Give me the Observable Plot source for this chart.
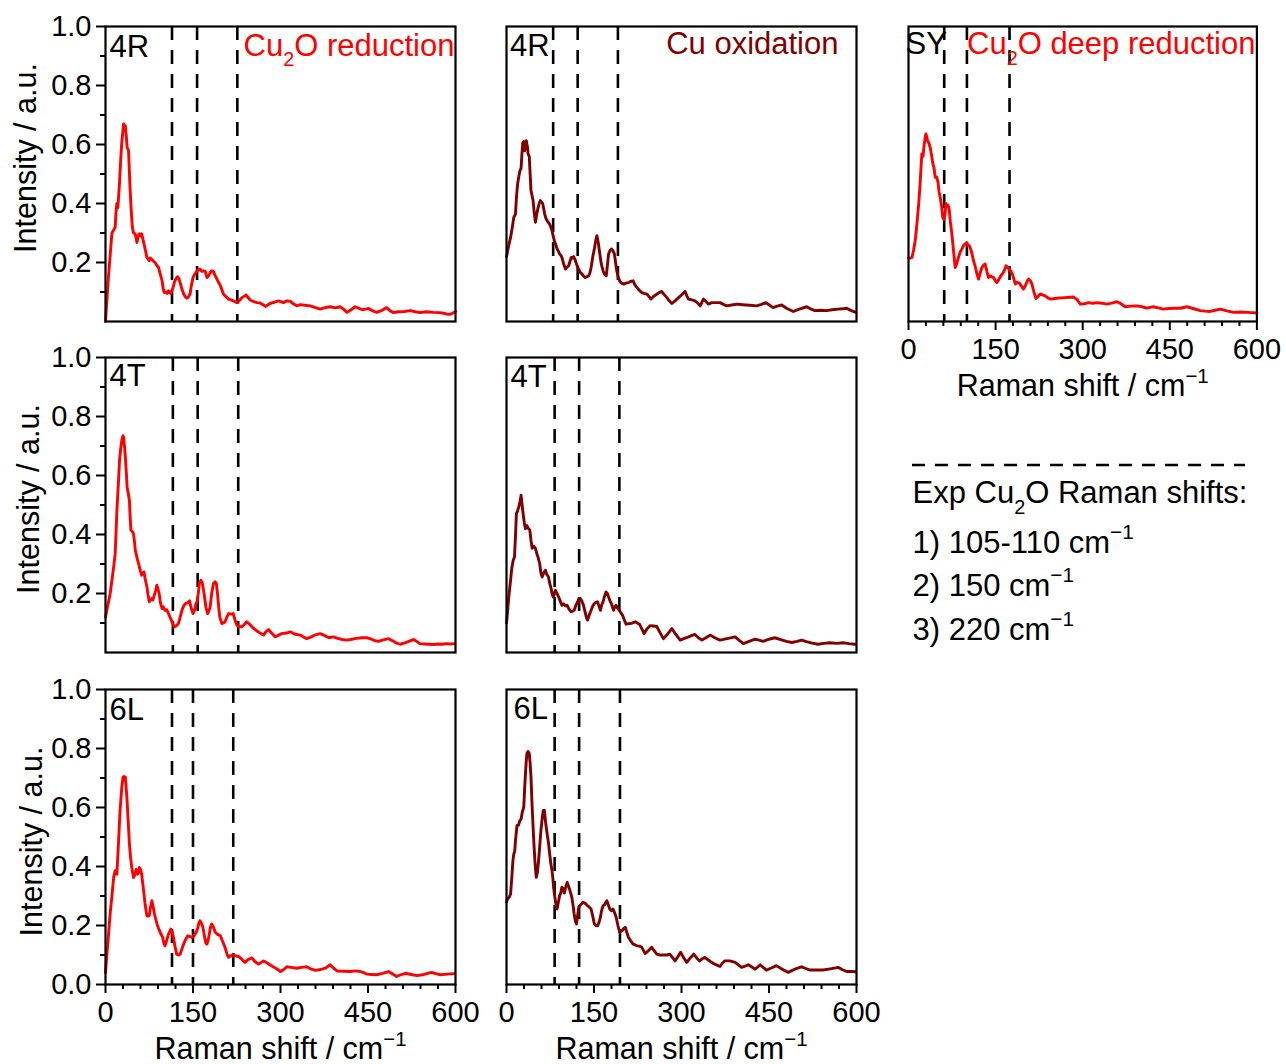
<!DOCTYPE html>
<html>
<head>
<meta charset="utf-8">
<script src="https://cdn.jsdelivr.net/npm/d3@7"></script>
<script src="https://cdn.jsdelivr.net/npm/@observablehq/plot@0.6"></script>
<style>
  body { margin: 0; background: #fff; }
  #fig { position: relative; width: 1286px; height: 1064px; background: #fff;
         font-family: "Liberation Sans", Arial, Helvetica, sans-serif; }
  #fig > svg { position: absolute; overflow: visible; }
</style>
</head>
<body>
<div id="fig"></div>
<script>
// Raman spectra: [shift (cm^-1), intensity (a.u.)]
const reduction4R = [[0,0],[5,0.15],[11,0.30],[14,0.31],[16.6,0.32],[18,0.37],[19.5,0.40],[21,0.385],[22,0.41],[24,0.47],[26,0.545],[28,0.61],[31,0.67],[33,0.655],[34,0.664],[36,0.62],[37,0.59],[39.5,0.58],[42,0.455],[44,0.38],[46,0.32],[48,0.30],[51,0.297],[54,0.268],[56,0.29],[58,0.297],[60,0.29],[62,0.297],[64,0.28],[66,0.263],[68,0.245],[71,0.217],[73,0.212],[75,0.206],[77,0.215],[79.5,0.21],[82,0.205],[85,0.20],[88,0.19],[91,0.183],[94,0.16],[97,0.138],[99,0.11],[101,0.098],[104,0.1],[106,0.095],[108,0.104],[110,0.098],[112,0.095],[115,0.11],[118,0.132],[120,0.142],[123.5,0.152],[126,0.145],[128,0.132],[131,0.11],[134,0.093],[137,0.083],[139.5,0.079],[142,0.083],[145,0.093],[147,0.12],[150,0.149],[153,0.16],[157,0.172],[160,0.176],[162,0.178],[165,0.17],[168,0.172],[171,0.17],[174,0.149],[177,0.155],[179.5,0.166],[182,0.172],[185,0.17],[188,0.155],[191,0.144],[194,0.132],[197,0.121],[200,0.105],[202,0.093],[206,0.085],[211,0.076],[215,0.073],[219,0.07],[223,0.066],[226,0.064],[230,0.072],[234,0.081],[238,0.086],[241,0.09],[244,0.082],[248,0.073],[253,0.068],[259.5,0.064],[265,0.063],[270,0.057],[274,0.051],[278,0.056],[282,0.061],[290,0.066],[297,0.07],[305,0.064],[311,0.07],[317,0.068],[322,0.06],[328,0.053],[334,0.057],[342,0.055],[351,0.053],[360,0.047],[368,0.042],[376,0.047],[385,0.05],[394,0.046],[402,0.05],[408,0.042],[414,0.031],[421,0.04],[428,0.05],[434,0.045],[440,0.04],[446,0.042],[451,0.044],[458,0.036],[465,0.031],[474,0.038],[482,0.047],[488,0.036],[494,0.03],[502,0.033],[512,0.034],[523,0.037],[531,0.033],[539,0.03],[550,0.033],[562,0.031],[572,0.03],[580,0.028],[585,0.025],[590,0.024],[595,0.028],[600,0.034]];

const reduction4T = [[0,0.12],[4,0.16],[8,0.20],[11,0.245],[14,0.29],[16.6,0.335],[18,0.40],[19.5,0.48],[22,0.57],[24,0.65],[26,0.69],[28,0.72],[30,0.735],[31,0.73],[33,0.69],[34,0.663],[36,0.6],[37,0.56],[39,0.54],[41,0.516],[42,0.47],[43.5,0.415],[46,0.41],[48,0.403],[50,0.37],[51,0.347],[53,0.33],[55,0.313],[57,0.3],[58,0.29],[60,0.275],[62,0.262],[64,0.27],[66,0.273],[68,0.25],[71,0.222],[73,0.195],[75,0.172],[77,0.18],[79.5,0.183],[81,0.178],[83,0.19],[86,0.21],[88,0.228],[90,0.215],[92,0.20],[94,0.17],[97,0.149],[99,0.155],[102,0.143],[105,0.145],[108,0.132],[111,0.118],[114,0.104],[116,0.095],[118,0.087],[121,0.09],[125,0.098],[128,0.12],[131,0.143],[134,0.158],[137,0.166],[140,0.168],[142,0.17],[144,0.175],[147,0.15],[150,0.132],[153,0.145],[155,0.165],[157,0.172],[159,0.2],[161,0.235],[163.5,0.245],[166,0.235],[169,0.2],[172,0.155],[175,0.132],[177,0.14],[179.5,0.155],[182,0.2],[185,0.234],[188,0.24],[190,0.234],[192,0.2],[194,0.155],[196,0.12],[199.5,0.098],[202,0.1],[205,0.104],[208,0.12],[211,0.132],[215,0.13],[219,0.132],[222,0.11],[225,0.093],[229,0.088],[234,0.087],[238,0.095],[242,0.104],[246,0.098],[251,0.087],[255,0.08],[259.5,0.073],[265,0.066],[271,0.059],[275,0.07],[279.5,0.078],[285,0.065],[291,0.053],[296,0.058],[302,0.064],[310,0.066],[317,0.07],[325,0.062],[334,0.059],[340,0.052],[345,0.047],[352,0.052],[360,0.06],[368,0.064],[375,0.058],[383,0.05],[391,0.053],[398,0.048],[406,0.044],[414,0.042],[422,0.045],[430,0.048],[440,0.05],[448,0.05],[456,0.045],[462,0.04],[468,0.038],[476,0.043],[485,0.047],[492,0.04],[498,0.033],[505,0.028],[512,0.032],[520,0.038],[528,0.044],[534,0.037],[539,0.03],[546,0.029],[554,0.028],[562,0.027],[570,0.029],[578,0.028],[585,0.03],[592,0.029],[598,0.03]];

const reduction6L = [[0,0.04],[4,0.14],[8,0.24],[11,0.3],[14,0.363],[16.6,0.386],[19.5,0.374],[22,0.47],[25,0.59],[28,0.67],[30,0.703],[32,0.705],[34,0.703],[37,0.624],[39,0.55],[41,0.477],[43,0.43],[45,0.397],[48,0.363],[50,0.37],[52.6,0.39],[55,0.374],[57,0.38],[58,0.397],[60,0.39],[62,0.374],[64,0.34],[66,0.307],[68,0.27],[71,0.233],[73,0.232],[75,0.233],[77,0.26],[79.5,0.284],[82,0.26],[84,0.239],[87,0.215],[89,0.2],[92,0.185],[95,0.171],[98,0.16],[100,0.14],[102,0.131],[105,0.15],[108,0.171],[110,0.178],[112,0.188],[114,0.18],[116.6,0.16],[119,0.13],[122,0.103],[125,0.1],[128,0.103],[131,0.12],[134,0.137],[137,0.152],[141,0.165],[144,0.163],[148,0.16],[151,0.163],[155.5,0.177],[158,0.19],[160,0.208],[162,0.216],[164,0.21],[167,0.194],[170,0.16],[172,0.14],[174,0.137],[177,0.16],[180,0.195],[182,0.205],[185,0.195],[188,0.177],[192,0.17],[197,0.165],[201,0.145],[205,0.126],[208,0.105],[211,0.092],[215,0.098],[219,0.1],[224,0.097],[228,0.095],[234,0.085],[239,0.075],[245,0.085],[251,0.09],[256,0.078],[262,0.069],[267,0.075],[271,0.08],[278,0.072],[285,0.063],[292,0.055],[300,0.044],[305,0.05],[311,0.06],[318,0.058],[328,0.055],[336,0.058],[345,0.06],[352,0.053],[360,0.048],[366,0.05],[371,0.052],[378,0.056],[385,0.067],[391,0.055],[397,0.046],[408,0.045],[420,0.044],[428,0.046],[437,0.044],[443,0.04],[448,0.035],[456,0.034],[465,0.033],[475,0.038],[485,0.044],[492,0.036],[499,0.027],[506,0.033],[514,0.038],[524,0.034],[534,0.03],[546,0.034],[559,0.041],[566,0.037],[574,0.033],[586,0.035],[598,0.037]];

const oxidation4R = [[0,0.22],[1,0.229],[4,0.26],[7,0.285],[10,0.32],[12.5,0.353],[15.4,0.364],[17,0.42],[19,0.466],[21,0.49],[23,0.511],[25,0.52],[26.5,0.57],[28,0.607],[29.5,0.61],[31,0.579],[32.5,0.6],[34,0.613],[36,0.59],[37,0.568],[39,0.56],[40,0.52],[42,0.443],[45.6,0.41],[47.5,0.37],[49.6,0.336],[51.5,0.36],[53.6,0.381],[56,0.40],[58,0.41],[60,0.405],[62,0.40],[64,0.38],[65.5,0.364],[67.5,0.35],[69.6,0.342],[72,0.335],[74,0.33],[76,0.32],[78,0.308],[80,0.29],[82,0.274],[84.5,0.26],[86.7,0.246],[89,0.238],[91,0.229],[93,0.225],[95,0.217],[98,0.195],[101,0.178],[104,0.185],[106.6,0.189],[109,0.205],[111,0.217],[113,0.215],[115,0.22],[117.5,0.21],[120,0.195],[123,0.18],[126.6,0.166],[130,0.16],[133,0.152],[135,0.149],[138,0.152],[141,0.155],[143,0.165],[145,0.183],[148,0.22],[151,0.251],[153,0.275],[155,0.291],[157.5,0.265],[160,0.229],[162.5,0.195],[165.5,0.172],[168,0.16],[171,0.155],[173,0.19],[175,0.229],[177.5,0.24],[180,0.246],[182.5,0.24],[185,0.229],[187,0.2],[189,0.172],[191.5,0.15],[194,0.138],[197,0.13],[201,0.127],[205,0.13],[209,0.132],[213,0.136],[217,0.138],[220,0.125],[223.6,0.115],[228,0.105],[232,0.098],[236,0.095],[241,0.093],[244,0.085],[247.6,0.076],[252,0.085],[258,0.093],[262,0.098],[266,0.102],[270,0.092],[275,0.081],[279,0.07],[283.5,0.061],[289,0.07],[295,0.081],[300,0.09],[306,0.102],[309,0.088],[312,0.076],[318,0.073],[323,0.07],[328,0.062],[332,0.053],[337.6,0.076],[342,0.068],[346,0.059],[352,0.064],[359,0.064],[366,0.064],[372,0.058],[377.6,0.053],[386,0.056],[395,0.059],[405,0.057],[417,0.055],[429,0.053],[437,0.058],[445,0.064],[451,0.055],[457,0.047],[464,0.052],[471.7,0.056],[480,0.045],[491.6,0.034],[502,0.042],[514.5,0.05],[521,0.043],[528.7,0.037],[538,0.038],[548.7,0.037],[558,0.04],[568.6,0.042],[576,0.043],[583,0.045],[591,0.037],[599,0.031]];

const oxidation4T = [[0,0.10],[1,0.12],[4,0.19],[7,0.245],[9,0.285],[11.5,0.313],[13.7,0.324],[15.5,0.4],[17,0.471],[19,0.48],[21,0.494],[23,0.51],[25,0.533],[26.7,0.5],[28.5,0.471],[30.5,0.44],[32.5,0.42],[35,0.43],[37.5,0.42],[40,0.415],[42,0.38],[44,0.353],[47,0.36],[49.6,0.353],[52,0.335],[54,0.324],[57,0.3],[59,0.27],[61,0.256],[64,0.27],[66.7,0.279],[69,0.265],[72,0.256],[74,0.235],[76.5,0.217],[78,0.2],[80,0.188],[82,0.2],[84,0.211],[86.5,0.2],[89.5,0.188],[92,0.175],[95,0.16],[98,0.165],[101,0.158],[104,0.16],[107,0.148],[110.7,0.138],[113,0.14],[116,0.143],[119,0.16],[122,0.172],[124,0.182],[126.6,0.183],[129,0.175],[132,0.16],[135,0.135],[137,0.118],[139,0.11],[142,0.128],[145,0.143],[148,0.158],[150.6,0.166],[153,0.17],[156,0.172],[158.5,0.158],[161,0.143],[163,0.16],[165.5,0.172],[168,0.19],[170.6,0.205],[173,0.2],[175,0.188],[177.5,0.175],[179.7,0.166],[181.5,0.155],[183.6,0.143],[185.5,0.155],[187.7,0.16],[190.5,0.15],[193.4,0.143],[196,0.135],[199,0.126],[202,0.11],[205,0.096],[210,0.098],[215,0.099],[218,0.102],[220.7,0.104],[224,0.1],[228,0.096],[232,0.08],[236,0.064],[240.7,0.08],[246,0.091],[252,0.09],[257.6,0.088],[263,0.068],[269,0.047],[276,0.062],[283.5,0.081],[290,0.062],[297.7,0.042],[305,0.048],[312,0.053],[318,0.058],[323,0.061],[329,0.05],[335,0.042],[342,0.05],[349,0.059],[357,0.05],[366,0.042],[378,0.047],[392,0.053],[399,0.041],[406,0.03],[416,0.038],[426,0.045],[433,0.042],[440,0.038],[450,0.045],[460,0.05],[470,0.044],[480,0.038],[489,0.034],[498,0.038],[506,0.042],[514,0.037],[524,0.032],[534,0.028],[544,0.031],[554,0.033],[566,0.031],[577,0.033],[587,0.03],[597,0.028]];

const oxidation6L = [[0,0.28],[2,0.29],[5,0.297],[7,0.307],[9,0.36],[11,0.42],[12.5,0.443],[14,0.45],[15.4,0.488],[18,0.539],[20.5,0.54],[23,0.556],[25,0.56],[27,0.584],[29.6,0.601],[31,0.66],[32.5,0.715],[34,0.76],[35,0.783],[37,0.79],[39,0.783],[40.5,0.75],[42,0.703],[44,0.6],[46.7,0.488],[49,0.41],[51,0.363],[53,0.38],[55,0.42],[57,0.47],[59,0.522],[61,0.56],[63,0.59],[65,0.59],[67,0.55],[69.6,0.511],[72,0.48],[74,0.443],[76,0.41],[78,0.386],[79.5,0.36],[81,0.324],[84,0.28],[86.7,0.256],[89,0.28],[91,0.301],[93,0.31],[95,0.33],[97,0.325],[99,0.31],[101.5,0.33],[104,0.346],[106,0.335],[108,0.324],[110,0.31],[112,0.296],[114,0.27],[116,0.239],[118,0.215],[120,0.205],[122,0.235],[124,0.262],[127,0.27],[131,0.279],[135,0.275],[139,0.267],[142,0.262],[145,0.256],[148,0.23],[150.6,0.205],[153,0.2],[156,0.199],[158.5,0.21],[161,0.228],[163,0.25],[165.5,0.267],[168,0.27],[170,0.278],[172,0.284],[174.5,0.27],[177,0.256],[180,0.25],[182.6,0.256],[185,0.245],[188,0.228],[191,0.2],[194,0.177],[196,0.18],[198,0.182],[201,0.19],[203.6,0.194],[206,0.178],[209,0.16],[213,0.148],[217,0.137],[220,0.135],[223.6,0.131],[228,0.13],[232,0.126],[235,0.115],[237.6,0.105],[242,0.112],[249,0.126],[253,0.115],[257.6,0.103],[263,0.1],[269,0.1],[275,0.1],[280,0.103],[285,0.09],[289,0.08],[294,0.095],[298.4,0.109],[304,0.09],[309,0.075],[315,0.09],[321,0.103],[326,0.09],[331,0.08],[336,0.088],[340,0.092],[346,0.083],[351.5,0.075],[358,0.068],[366,0.061],[370,0.072],[374,0.08],[383,0.08],[392,0.075],[398,0.066],[403,0.058],[409,0.062],[414.6,0.067],[420,0.06],[426,0.052],[431,0.06],[435,0.067],[440,0.058],[445.6,0.049],[454,0.056],[462.7,0.064],[470,0.055],[477,0.047],[483,0.041],[490,0.048],[498,0.055],[505.6,0.06],[512,0.055],[520,0.049],[531,0.049],[543,0.049],[555,0.053],[568.6,0.058],[576,0.05],[583,0.044],[591,0.044],[599,0.043]];

const deepReductionSY = [[0,0.215],[3,0.215],[6,0.217],[9,0.245],[11.5,0.274],[13.5,0.31],[15.5,0.353],[18,0.41],[20,0.466],[21.5,0.52],[23,0.568],[25,0.56],[27,0.6],[28.5,0.62],[30,0.636],[31.5,0.625],[32.8,0.613],[35,0.605],[37.4,0.59],[40,0.56],[42,0.534],[44,0.52],[46,0.489],[48.5,0.49],[51,0.47],[52.5,0.44],[54.6,0.421],[57,0.39],[59,0.353],[61,0.345],[63,0.364],[64.5,0.4],[66,0.393],[68,0.395],[70,0.381],[72,0.34],[74.7,0.297],[77,0.25],[80.4,0.183],[83,0.195],[86,0.217],[89,0.235],[92,0.246],[95,0.258],[97.7,0.263],[100,0.268],[102.5,0.258],[105,0.257],[108,0.24],[112,0.206],[115,0.185],[118,0.16],[120.6,0.144],[123.5,0.165],[126.4,0.183],[129,0.19],[132,0.195],[135,0.17],[137.8,0.149],[140,0.155],[143,0.152],[146.4,0.149],[149,0.14],[152,0.132],[155,0.14],[159,0.155],[163,0.165],[166,0.178],[168,0.189],[170,0.185],[173,0.178],[176,0.172],[179,0.16],[182,0.14],[184,0.127],[187,0.133],[191,0.13],[195,0.118],[198,0.11],[201,0.12],[204,0.135],[207,0.144],[210,0.138],[212.6,0.127],[216,0.1],[219.5,0.078],[223,0.085],[227,0.093],[231,0.09],[235.5,0.087],[240,0.08],[244,0.076],[252,0.078],[261,0.08],[270,0.081],[278,0.082],[284,0.083],[290,0.075],[296,0.059],[303,0.06],[310,0.064],[317,0.062],[324.5,0.064],[333,0.062],[341.7,0.059],[350,0.062],[359,0.067],[366,0.06],[373,0.05],[383,0.052],[393,0.053],[402,0.05],[410.7,0.045],[416,0.048],[422,0.05],[430,0.046],[439,0.042],[448,0.044],[456.5,0.045],[468,0.045],[479.6,0.05],[490,0.044],[502.5,0.037],[511,0.035],[519.7,0.034],[528,0.038],[537,0.042],[548,0.036],[560,0.031],[572,0.032],[583,0.031],[592,0.03],[600,0.029]];

// Marked Cu2O bands in each panel (cm^-1)
const bands4R_red = [114, 157, 226];
const bands4T_red = [115.5, 158, 227.5];
const bands6L_red = [114, 150, 219];
const bands4R_wine = [80, 122, 191];
const bands4T_wine = [82.5, 124.5, 193.5];
const bands6L_wine = [82.5, 124.5, 194.5];
const bandsSY = [61.5, 100.6, 174];

// Axis ticks
const yMajor = [0.2, 0.4, 0.6, 0.8, 1.0];
const yMajorWithZero = [0.0, 0.2, 0.4, 0.6, 0.8, 1.0];
const yMinor = [0.1, 0.3, 0.5, 0.7, 0.9];
const xMajor = [0, 150, 300, 450, 600];
const xMinor = [30, 60, 90, 120, 180, 210, 240, 270, 330, 360, 390, 420, 480, 510, 540, 570];

// Text
const yTitle = "Intensity / a.u.";
const xTitle = "Raman shift / cm^{\u22121}";
const legendHeader = "Exp Cu_{2}O Raman shifts:";
const legendItems = ["1) 105-110 cm^{\u22121}", "2) 150 cm^{\u22121}", "3) 220 cm^{\u22121}"];

const RED = "#ff0000";
const WINE = "#800000";
const FONT = "'Liberation Sans', Arial, Helvetica, sans-serif";
const SVGNS = "http://www.w3.org/2000/svg";
const LABEL_SIZE = 31;
const TITLE_SIZE = 30.5;
const TICK_SIZE = 29;

// Turn ^{..} and _{..} markup inside SVG text into raised / lowered tspans
function setScripted(textEl, src, size) {
  const parts = [];
  const re = /([\^_])\{([^}]*)\}/g;
  let last = 0, m;
  while ((m = re.exec(src))) {
    if (m.index > last) parts.push({t: src.slice(last, m.index), k: ""});
    parts.push({t: m[2], k: m[1]});
    last = re.lastIndex;
  }
  if (last < src.length) parts.push({t: src.slice(last), k: ""});
  while (textEl.firstChild) textEl.removeChild(textEl.firstChild);
  let offset = 0;
  for (const p of parts) {
    const ts = document.createElementNS(SVGNS, "tspan");
    const target = p.k === "^" ? -0.44 * size : p.k === "_" ? 0.35 * size : 0;
    ts.setAttribute("dy", target - offset);
    offset = target;
    if (p.k === "^") ts.setAttribute("font-size", 0.67 * size);
    if (p.k === "_") ts.setAttribute("font-size", 0.64 * size);
    ts.textContent = p.t;
    textEl.appendChild(ts);
  }
}
function applyScripts(root) {
  root.querySelectorAll("text").forEach(t => {
    const s = t.textContent;
    if (!/[\^_]\{/.test(s)) return;
    const size = parseFloat(getComputedStyle(t).fontSize) || LABEL_SIZE;
    setScripted(t, s, size);
  });
}

// Layout of the panel grid (frame left / top edges)
const colLeft = [105.3, 506.3, 908.3];
const colWidth = [350, 350, 348.4];
const rowTop = [26, 357.3, 689.3];
const PANEL_H = 295;

const panels = [
  {col: 0, row: 0, series: reduction4R, color: RED, bands: bands4R_red, tag: "4R", tagDx: 4, tagDy: 30,
   note: "Cu_{2}O reduction", noteDx: -1, noteDy: 29, yTicks: yMajor, yTitleDx: -70, yTitleDy: -16, xAxis: false},
  {col: 0, row: 1, series: reduction4T, color: RED, bands: bands4T_red, tag: "4T", tagDx: 4, tagDy: 28,
   yTicks: yMajor, yTitleDx: -67, yTitleDy: -6, xAxis: false},
  {col: 0, row: 2, series: reduction6L, color: RED, bands: bands6L_red, tag: "6L", tagDx: 4, tagDy: 30,
   yTicks: yMajorWithZero, yTitleDx: -63.5, yTitleDy: 4.5, xAxis: true},
  {col: 1, row: 0, series: oxidation4R, color: WINE, bands: bands4R_wine, tag: "4R", tagDx: 3.5, tagDy: 29,
   note: "Cu oxidation", noteDx: -18, noteDy: 27.5, xAxis: false},
  {col: 1, row: 1, series: oxidation4T, color: WINE, bands: bands4T_wine, tag: "4T", tagDx: 4, tagDy: 29,
   xAxis: false},
  {col: 1, row: 2, series: oxidation6L, color: WINE, bands: bands6L_wine, tag: "6L", tagDx: 7, tagDy: 29,
   xAxis: true},
  {col: 2, row: 0, series: deepReductionSY, color: RED, bands: bandsSY, tag: "SY", tagDx: -3, tagDy: 27.5,
   note: "Cu_{2}O deep reduction", noteDx: -1.5, noteDy: 27.5, xAxis: true}
];

const fig = document.getElementById("fig");

for (const p of panels) {
  const W = colWidth[p.col];
  const ml = 10, mr = 10, mt = 10, mb = 10;
  const data = p.series.map(([x, y]) => ({x, y}));

  const marks = [
    Plot.ruleX(p.bands, {stroke: "black", strokeWidth: 2.6, strokeDasharray: "14,10"}),
    Plot.line(data, {x: "x", y: "y", stroke: p.color, strokeWidth: 2.9, strokeLinejoin: "round"}),
    Plot.frame({stroke: "black", strokeWidth: 2.2}),
    Plot.text([p.tag], {text: d => d, frameAnchor: "top-left", textAnchor: "start", lineAnchor: "bottom",
      dx: p.tagDx, dy: p.tagDy, fontSize: LABEL_SIZE, fill: "black"})
  ];
  if (p.note) {
    marks.push(Plot.text([p.note], {text: d => d, frameAnchor: "top-right", textAnchor: "end", lineAnchor: "bottom",
      dx: p.noteDx, dy: p.noteDy, fontSize: LABEL_SIZE, fill: p.color}));
  }
  if (p.yTicks) {
    marks.push(
      Plot.axisY({ticks: p.yTicks, tickSize: 9, tickPadding: 5, tickFormat: d3.format(".1f"), strokeWidth: 2, label: null, fontSize: TICK_SIZE}),
      Plot.axisY({ticks: yMinor, tickSize: 5, tickFormat: () => "", strokeWidth: 2, label: null}),
      Plot.text([yTitle], {text: d => d, frameAnchor: "left", rotate: -90, textAnchor: "middle", lineAnchor: "bottom",
        dx: p.yTitleDx, dy: p.yTitleDy, fontSize: TITLE_SIZE, fill: "black"})
    );
  }
  if (p.xAxis) {
    marks.push(
      Plot.axisX({ticks: xMajor, tickSize: 9, tickPadding: 8, tickFormat: d => String(d), strokeWidth: 2, label: null, fontSize: TICK_SIZE}),
      Plot.axisX({ticks: xMinor, tickSize: 5, tickFormat: () => "", strokeWidth: 2, label: null}),
      Plot.text([xTitle], {text: d => d, frameAnchor: "bottom", textAnchor: "middle", lineAnchor: "bottom",
        dy: 74.5, fontSize: TITLE_SIZE, fill: "black"})
    );
  }

  const svg = Plot.plot({
    width: ml + W + mr,
    height: mt + PANEL_H + mb,
    marginLeft: ml, marginRight: mr, marginTop: mt, marginBottom: mb,
    x: {domain: [0, 600], axis: null},
    y: {domain: [0, 1], axis: null},
    style: {background: "transparent", overflow: "visible", fontFamily: FONT, fontSize: TICK_SIZE + "px", color: "black"},
    marks
  });
  svg.style.position = "absolute";
  svg.style.left = (colLeft[p.col] - ml) + "px";
  svg.style.top = (rowTop[p.row] - mt) + "px";
  fig.appendChild(svg);
  applyScripts(svg);
}

// Key for the dashed band markers
const legend = d3.create("svg")
  .attr("width", 386).attr("height", 230)
  .attr("font-family", FONT).attr("font-size", LABEL_SIZE)
  .style("left", "900px").style("top", "440px");
legend.append("line")
  .attr("x1", 12).attr("x2", 345).attr("y1", 25).attr("y2", 25)
  .attr("stroke", "black").attr("stroke-width", 2.3).attr("stroke-dasharray", "13,10");
legend.append("text").attr("x", 12.5).attr("y", 63).text(legendHeader);
legendItems.forEach((s, i) => {
  legend.append("text").attr("x", 12.5).attr("y", 112.5 + i * 43.5).text(s);
});
fig.appendChild(legend.node());
applyScripts(legend.node());
</script>
</body>
</html>
